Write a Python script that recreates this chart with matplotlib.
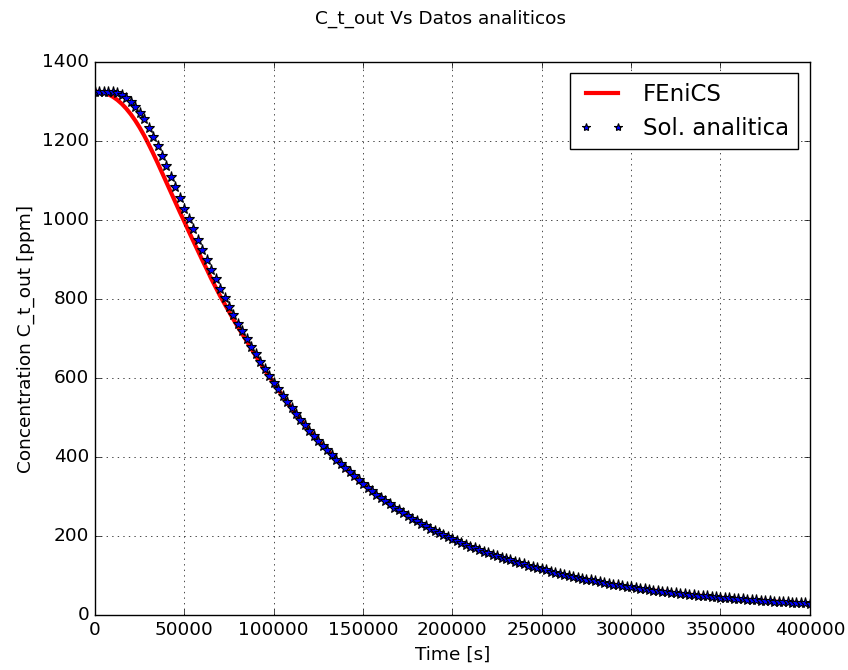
import numpy as np
import matplotlib
matplotlib.use("Agg")
import matplotlib.pyplot as plt

plt.style.use('classic')
plt.rcParams['font.size'] = 13.3

# analytic solution, one star every 2500 s
t_sol = np.arange(0, 400001, 2500)
c_sol = [1325, 1325, 1325, 1325, 1324, 1321, 1316, 1308, 1298, 1286,
         1272, 1255, 1234, 1211, 1187, 1162, 1136, 1110, 1083, 1056,
         1029, 1002, 976, 950, 924, 899, 874, 850, 826, 803,
         781, 759, 738, 718, 698, 679, 660, 641, 623, 605,
         588, 571, 555, 539, 524, 509, 495, 481, 467, 454,
         441, 429, 417, 405, 393, 382, 371, 361, 351, 341,
         331, 322, 313, 304, 296, 288, 280, 272, 265, 258,
         251, 244, 237, 231, 225, 219, 213, 207, 202, 197,
         192, 187.2, 182.5, 178.0, 173.5, 169.2, 165.0, 160.8, 156.8, 152.9,
         149.1, 145.3, 141.7, 138.2, 134.7, 131.4, 128.1, 124.9, 121.8, 118.7,
         115.7, 112.8, 110.0, 107.3, 104.6, 102.0, 99.4, 97.0, 94.5, 92.2,
         89.9, 87.6, 85.4, 83.3, 81.2, 79.2, 77.2, 75.3, 73.4, 71.6,
         69.8, 68.2, 66.6, 65.1, 63.6, 62.1, 60.7, 59.3, 57.9, 56.6,
         55.3, 54.0, 52.8, 51.6, 50.4, 49.2, 48.1, 47.0, 45.9, 44.9,
         43.8, 42.9, 42.0, 41.1, 40.3, 39.5, 38.7, 37.9, 37.1, 36.3,
         35.6, 34.8, 34.1, 33.4, 32.7, 32.1, 31.4, 30.8, 30.1, 29.5,
         28.9]

# FEniCS result (same grid, first 100000 s differ, after that it matches)
c_fenics_start = [1325, 1324, 1322, 1318, 1312, 1304, 1294, 1282, 1268, 1252,
                  1234, 1214, 1192, 1169, 1145, 1120, 1095, 1070, 1045, 1020,
                  996, 971, 947, 923, 899, 876, 852, 830, 808, 788,
                  768, 748, 729, 711, 693, 674, 656, 638, 620, 604]
c_fenics = c_fenics_start + c_sol[len(c_fenics_start):]

fig = plt.figure(figsize=(8.48, 6.7), dpi=100)
ax = fig.add_axes([0.112, 0.082, 0.843, 0.8255])

ax.plot(t_sol, c_fenics, color='red', lw=3, label='FEniCS')
ax.plot(t_sol, c_sol, linestyle='none', marker='*', ms=8, mfc='blue',
        mec='black', mew=0.8, label='Sol. analitica')

ax.set_xlim(0, 400000)
ax.set_ylim(0, 1400)
ax.grid(True)
ax.set_xlabel('Time [s]')
ax.set_ylabel('Concentration C_t_out [ppm]')
fig.suptitle('C_t_out Vs Datos analiticos', x=0.519, y=0.986, fontsize=13.3)
leg = ax.legend(loc=1, prop={'size': 16.5}, markerscale=0.75)

fig.savefig('out.png', dpi=100)
